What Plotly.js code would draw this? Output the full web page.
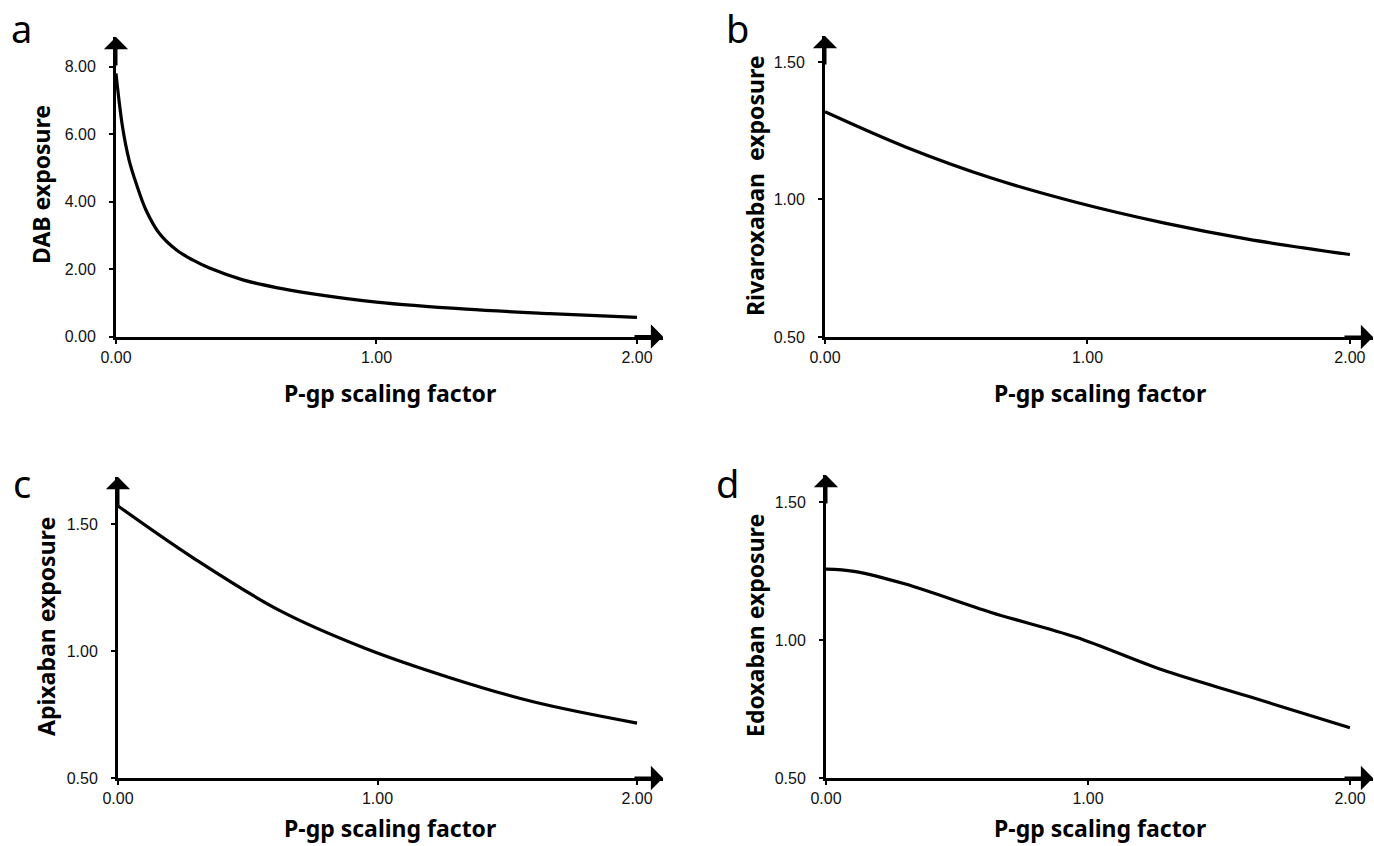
<!DOCTYPE html>
<html>
<head>
<meta charset="utf-8">
<script src="https://cdn.plot.ly/plotly-3.0.1.min.js"></script>
<style>html,body{margin:0;padding:0;background:#fff;} #chart{width:1374px;height:846px;}</style>
</head>
<body>
<div id="chart"></div>
<script>
// ---- data ----
const pgpA = [0, 0.025, 0.05, 0.077, 0.115, 0.166, 0.231, 0.294, 0.359, 0.487, 0.615, 0.743, 1.0, 1.345, 1.665, 2.0];
const dabExposure = [7.80, 6.22, 5.24, 4.55, 3.75, 3.06, 2.57, 2.27, 2.03, 1.68, 1.45, 1.28, 1.02, 0.81, 0.68, 0.57];

const pgpB = [0, 0.307, 0.634, 0.96, 1.29, 1.61, 2.0];
const rivaroxabanExposure = [1.319, 1.191, 1.078, 0.989, 0.915, 0.856, 0.80];

const pgpC = [0, 0.295, 0.622, 0.949, 1.276, 1.6, 2.0];
const apixabanExposure = [1.571, 1.363, 1.16, 1.012, 0.896, 0.80, 0.716];

const pgpD = [0, 0.107, 0.303, 0.63, 0.955, 1.28, 1.615, 2.0];
const edoxabanExposure = [1.257, 1.249, 1.203, 1.10, 1.01, 0.893, 0.795, 0.682];

const xTicks = [0, 1, 2];
const yTicksA = [0, 2, 4, 6, 8];
const yTicksB = [0.5, 1.0, 1.5];
const yTicksC = [0.5, 1.0, 1.5];
const yTicksD = [0.5, 1.0, 1.5];

const xTitle = 'P-gp scaling factor';
const yTitles = ['DAB exposure', 'Rivaroxaban\u00a0 exposure', 'Apixaban exposure', 'Edoxaban exposure'];
const panelLetters = ['a', 'b', 'c', 'd'];

// ---- layout geometry ----
const W = 1374, H = 846;
const px = v => v / W;
const py = v => 1 - v / H;

const panels = [
  {xs: pgpA, ys: dabExposure, xd: [px(116), px(663)], yd: [py(336.5), py(37)], xr: [0, 2.1], yr: [0, 8.88], yt: yTicksA,
   ytx: px(41), yty: py(185), xtx: px(390), xty: py(393), xtanchor: 'middle', lx: px(21), ly: py(28)},
  {xs: pgpB, ys: rivaroxabanExposure, xd: [px(825), px(1373)], yd: [py(337), py(36)], xr: [0, 2.088], yr: [0.5, 1.5945], yt: yTicksB,
   ytx: px(755), yty: py(186), xtx: px(1100), xty: py(393), xtanchor: 'middle', lx: px(737), ly: py(28)},
  {xs: pgpC, ys: apixabanExposure, xd: [px(118), px(663)], yd: [py(778), py(477)], xr: [0, 2.1], yr: [0.5, 1.685], yt: yTicksC,
   ytx: px(46), yty: py(627), xtx: px(390), xty: 0, xtanchor: 'bottom', lx: px(22), ly: py(483)},
  {xs: pgpD, ys: edoxabanExposure, xd: [px(826), px(1373)], yd: [py(778), py(475)], xr: [0, 2.088], yr: [0.5, 1.598], yt: yTicksD,
   ytx: px(755), yty: py(626), xtx: px(1100), xty: 0, xtanchor: 'bottom', lx: px(727), ly: py(483)}
];

const tickFont = {family: '"Liberation Sans", Arial, sans-serif', size: 16, color: '#111'};
const titleFont = {family: '"Noto Sans", "Open Sans", sans-serif', size: 23, color: '#000', weight: 700};
const letterFont = {family: '"Noto Sans", "Open Sans", sans-serif', size: 38, color: '#000'};

const data = [];
const layout = {
  width: W, height: H,
  margin: {l: 0, r: 0, t: 0, b: 0},
  paper_bgcolor: '#fff', plot_bgcolor: '#fff',
  showlegend: false,
  annotations: []
};

panels.forEach((p, i) => {
  const n = i === 0 ? '' : String(i + 1);
  const xa = 'x' + n, ya = 'y' + n;
  data.push({
    type: 'scatter', mode: 'lines', x: p.xs, y: p.ys,
    xaxis: xa, yaxis: ya,
    line: {color: '#000', width: 3.2, shape: 'spline', smoothing: 1},
    cliponaxis: false, hoverinfo: 'skip'
  });
  layout['xaxis' + n] = {
    domain: p.xd, range: p.xr, anchor: ya,
    showline: true, linecolor: '#000', linewidth: 3,
    showgrid: false, zeroline: false,
    tickmode: 'array', tickvals: xTicks, tickformat: '.2f',
    ticks: 'outside', ticklen: 4, tickwidth: 2, tickcolor: '#000',
    tickfont: Object.assign({}, tickFont), fixedrange: true
  };
  layout['yaxis' + n] = {
    domain: p.yd, range: p.yr, anchor: xa,
    showline: true, linecolor: '#000', linewidth: 3,
    showgrid: false, zeroline: false,
    tickmode: 'array', tickvals: p.yt, tickformat: '.2f',
    ticks: 'outside', ticklen: 4, tickwidth: 2, tickcolor: '#000',
    ticklabelstandoff: 10,
    tickfont: Object.assign({}, tickFont), fixedrange: true
  };
  // arrowheads at the ends of the axes
  layout.annotations.push({
    xref: xa, yref: ya, x: 0, y: p.yr[1], ax: 0, ay: 30, text: '',
    showarrow: true, arrowhead: 1, arrowsize: 1.35, arrowwidth: 3, arrowcolor: '#000', standoff: 0
  });
  layout.annotations.push({
    xref: xa, yref: ya, x: p.xr[1], y: p.yr[0], ax: -30, ay: 0, text: '',
    showarrow: true, arrowhead: 1, arrowsize: 1.35, arrowwidth: 3, arrowcolor: '#000', standoff: 0
  });
  // axis titles
  layout.annotations.push({
    xref: 'paper', yref: 'paper', x: p.ytx, y: p.yty, text: yTitles[i], textangle: -90,
    showarrow: false, xanchor: 'center', yanchor: 'middle', font: titleFont
  });
  layout.annotations.push({
    xref: 'paper', yref: 'paper', x: p.xtx, y: p.xty, text: xTitle,
    showarrow: false, xanchor: 'center', yanchor: p.xtanchor, font: titleFont
  });
  // panel letter
  layout.annotations.push({
    xref: 'paper', yref: 'paper', x: p.lx, y: p.ly, text: panelLetters[i],
    showarrow: false, xanchor: 'center', yanchor: 'middle', font: letterFont
  });
});

Plotly.newPlot('chart', data, layout, {displayModeBar: false, staticPlot: true});
</script>
</body>
</html>
